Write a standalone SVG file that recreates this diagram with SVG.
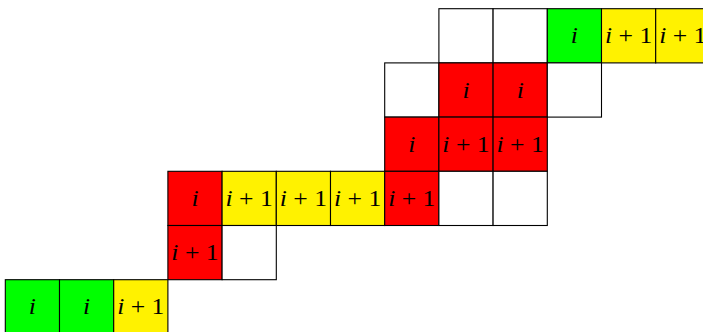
<svg xmlns="http://www.w3.org/2000/svg" width="703" height="332" viewBox="0 0 703 332">
<style>
rect{stroke:#000;stroke-width:1.1}
.w{fill:#fff}.g{fill:#00ff00}.y{fill:#fff200}.r{fill:#ff0000}
text{font-family:"Liberation Serif","Times New Roman",serif;font-size:24px;fill:#000;text-anchor:middle}
.it{font-style:italic}
</style>
<rect x="0" y="0" width="703" height="332" fill="#fff" style="stroke:none"/>
<!-- row 0 -->
<g id="r0c8"><rect class="w" x="438.9" y="8.7" width="54.2" height="54.2"/></g>
<g id="r0c9"><rect class="w" x="493.1" y="8.7" width="54.2" height="54.2"/></g>
<g id="r0c10"><rect class="g" x="547.3" y="8.7" width="54.2" height="54.2"/><text transform="translate(574.4,43.3) scale(1.07,1)"><tspan class="it">i</tspan></text></g>
<g id="r0c11"><rect class="y" x="601.5" y="8.7" width="54.2" height="54.2"/><text transform="translate(628.6,43.3) scale(1.07,1)"><tspan class="it">i</tspan> + 1</text></g>
<g id="r0c12"><rect class="y" x="655.7" y="8.7" width="54.2" height="54.2"/><text transform="translate(682.8,43.3) scale(1.07,1)"><tspan class="it">i</tspan> + 1</text></g>
<!-- row 1 -->
<g id="r1c7"><rect class="w" x="384.7" y="62.9" width="54.2" height="54.2"/></g>
<g id="r1c8"><rect class="r" x="438.9" y="62.9" width="54.2" height="54.2"/><text transform="translate(466,97.5) scale(1.07,1)"><tspan class="it">i</tspan></text></g>
<g id="r1c9"><rect class="r" x="493.1" y="62.9" width="54.2" height="54.2"/><text transform="translate(520.2,97.5) scale(1.07,1)"><tspan class="it">i</tspan></text></g>
<g id="r1c10"><rect class="w" x="547.3" y="62.9" width="54.2" height="54.2"/></g>
<!-- row 2 -->
<g id="r2c7"><rect class="r" x="384.7" y="117.1" width="54.2" height="54.2"/><text transform="translate(411.8,151.7) scale(1.07,1)"><tspan class="it">i</tspan></text></g>
<g id="r2c8"><rect class="r" x="438.9" y="117.1" width="54.2" height="54.2"/><text transform="translate(466,151.7) scale(1.07,1)"><tspan class="it">i</tspan> + 1</text></g>
<g id="r2c9"><rect class="r" x="493.1" y="117.1" width="54.2" height="54.2"/><text transform="translate(520.2,151.7) scale(1.07,1)"><tspan class="it">i</tspan> + 1</text></g>
<!-- row 3 -->
<g id="r3c3"><rect class="r" x="167.9" y="171.3" width="54.2" height="54.2"/><text transform="translate(195,205.9) scale(1.07,1)"><tspan class="it">i</tspan></text></g>
<g id="r3c4"><rect class="y" x="222.1" y="171.3" width="54.2" height="54.2"/><text transform="translate(249.2,205.9) scale(1.07,1)"><tspan class="it">i</tspan> + 1</text></g>
<g id="r3c5"><rect class="y" x="276.3" y="171.3" width="54.2" height="54.2"/><text transform="translate(303.4,205.9) scale(1.07,1)"><tspan class="it">i</tspan> + 1</text></g>
<g id="r3c6"><rect class="y" x="330.5" y="171.3" width="54.2" height="54.2"/><text transform="translate(357.6,205.9) scale(1.07,1)"><tspan class="it">i</tspan> + 1</text></g>
<g id="r3c7"><rect class="r" x="384.7" y="171.3" width="54.2" height="54.2"/><text transform="translate(411.8,205.9) scale(1.07,1)"><tspan class="it">i</tspan> + 1</text></g>
<g id="r3c8"><rect class="w" x="438.9" y="171.3" width="54.2" height="54.2"/></g>
<g id="r3c9"><rect class="w" x="493.1" y="171.3" width="54.2" height="54.2"/></g>
<!-- row 4 -->
<g id="r4c3"><rect class="r" x="167.9" y="225.5" width="54.2" height="54.2"/><text transform="translate(195,260.1) scale(1.07,1)"><tspan class="it">i</tspan> + 1</text></g>
<g id="r4c4"><rect class="w" x="222.1" y="225.5" width="54.2" height="54.2"/></g>
<!-- row 5 -->
<g id="r5c0"><rect class="g" x="5.3" y="279.7" width="54.2" height="54.2"/><text transform="translate(32.4,314.3) scale(1.07,1)"><tspan class="it">i</tspan></text></g>
<g id="r5c1"><rect class="g" x="59.5" y="279.7" width="54.2" height="54.2"/><text transform="translate(86.6,314.3) scale(1.07,1)"><tspan class="it">i</tspan></text></g>
<g id="r5c2"><rect class="y" x="113.7" y="279.7" width="54.2" height="54.2"/><text transform="translate(140.8,314.3) scale(1.07,1)"><tspan class="it">i</tspan> + 1</text></g>
<g id="connectors"></g>
</svg>
